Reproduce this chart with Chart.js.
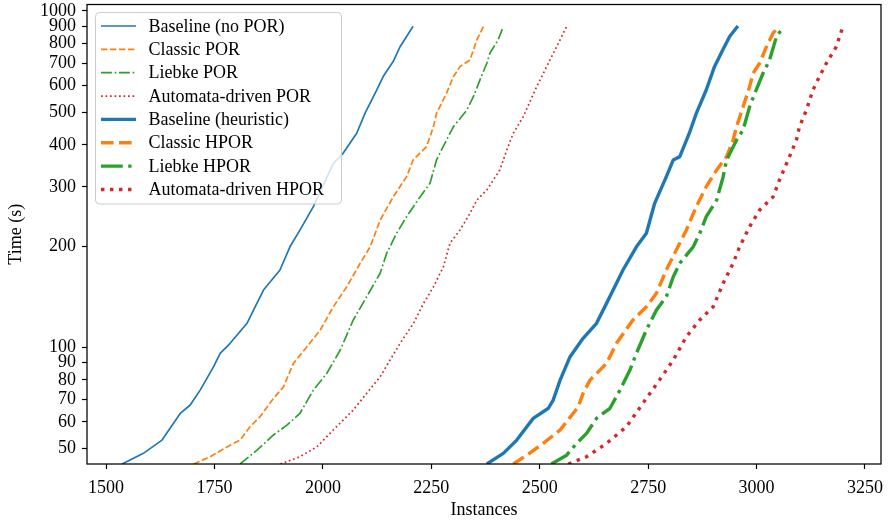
<!DOCTYPE html>
<html><head><meta charset="utf-8">
<script src="https://cdn.jsdelivr.net/npm/chart.js@4.4.1/dist/chart.umd.min.js"></script>
<style>html,body{margin:0;padding:0;background:#fff;} canvas{display:block;}</style>
</head><body>
<canvas id="c" width="892" height="524"></canvas>
<script>
const seriesLabels = ['Baseline (no POR)','Classic POR','Liebke POR','Automata-driven POR',
  'Baseline (heuristic)','Classic HPOR','Liebke HPOR','Automata-driven HPOR'];
const xTicks = [1500,1750,2000,2250,2500,2750,3000,3250];
const yTicks = [50,60,70,80,90,100,200,300,400,500,600,700,800,900,1000];

const baseNoPorX = [1537,1586,1629,1671,1694,1717,1748,1763,1786,1825,1840,1863,1901,1924,1947,1978,2024,2047,2078,2097,2124,2139,2162,2178,2193,2208];
const baseNoPorY = [45,48.4,53.0,63.6,67.4,74.6,87.6,96,102.8,117.9,129,148,169.8,199,223,262,352,378,433,496,582,638,707,783,839,900];
const classicPorX = [1702,1740,1786,1809,1832,1855,1886,1909,1932,1963,1994,2024,2055,2086,2109,2132,2162,2193,2208,2239,2255,2262,2285,2301,2316,2339,2355,2370];
const classicPorY = [45,47.3,51.2,53.0,58.1,62.2,70.5,76.3,89.6,100.4,112.6,132,151.4,177.8,199,239,280,321.6,360.6,395,453,496,569,638,683,715,820,898];
const liebkePorX = [1809,1848,1886,1917,1947,1978,2009,2040,2070,2101,2132,2147,2170,2193,2224,2247,2262,2285,2301,2332,2347,2362,2378,2385,2404,2416];
const liebkePorY = [45,49.5,54.9,58.7,63.6,74.6,83.7,98.2,120.6,141.4,166,190.3,218.3,244.6,280,307.4,360.6,413.5,453,507.6,556,623,699,748.5,820,898];
const automataPorX = [1902,1947,1986,2024,2070,2101,2132,2155,2178,2209,2232,2255,2278,2293,2316,2339,2355,2378,2408,2424,2439,2462,2493,2516,2539,2562];
const automataPorY = [45,47.3,50.6,56.8,65.1,73,81.8,91.7,102.8,117.9,135.1,151.4,173.7,203.9,223,250,274,293.6,336.7,386,433,485,595.5,683,783,898];
const baseHeurX = [2378,2416,2447,2485,2520,2531,2547,2570,2600,2631,2654,2677,2692,2723,2746,2765,2792,2808,2823,2845,2861,2884,2903,2922,2938,2957];
const baseHeurY = [45,48.4,53.0,61.5,65.9,69.7,79.9,93.8,106.4,117.9,135.1,155,169.8,199,218.3,268,321.6,360.6,368.9,433,496,582,683,765.6,839,902];
const classicHporX = [2439,2470,2508,2547,2577,2589,2600,2616,2654,2677,2715,2746,2769,2792,2815,2838,2861,2884,2908,2931,2946,2954,2969,2984,2992,3007,3023,3038,3050];
const classicHporY = [45,47.8,51.8,56.8,63.6,66.6,73,79.9,89.6,102.8,120.6,132,144.7,169.8,194.7,223,262,300.3,336.7,368.9,413.5,453,519,595.5,652.8,699,783,858.5,894];
const liebkeHporX = [2527,2562,2585,2608,2631,2662,2685,2708,2723,2746,2769,2792,2808,2823,2854,2869,2884,2908,2923,2931,2954,2969,2984,2999,3015,3030,3046,3057];
const liebkeHporY = [45,47.8,51.8,55.5,61.5,65.9,74.6,85.6,96,112.6,129,141.4,162.1,177.8,199,218.3,244.6,274,321.6,360.6,413.5,443,519,582,652.8,715,839,878];
const automataHporX = [2566,2608,2654,2700,2738,2776,2808,2838,2869,2900,2923,2946,2961,2984,3007,3038,3053,3076,3092,3099,3115,3130,3145,3161,3184,3199];
const automataHporY = [45,47.3,51.8,58.1,68.2,79.9,91.7,107.5,120.6,132,155,177.8,199,228.4,256,280,314.5,368.9,413.5,453,507.6,582,638,699,783,898];

const seriesX = [baseNoPorX, classicPorX, liebkePorX, automataPorX, baseHeurX, classicHporX, liebkeHporX, automataHporX];
const seriesY = [baseNoPorY, classicPorY, liebkePorY, automataPorY, baseHeurY, classicHporY, liebkeHporY, automataHporY];

const FONT = "'Liberation Serif', 'Times New Roman', serif";
const FS = 18;
const colors = ['#1f77b4','#ff7f0e','#2ca02c','#d62728'];
const styles = ['solid','dashed','dashdot','dotted'];
function dashFor(style, w) {
  if (style === 'dashed') return [3.7*w, 1.6*w];
  if (style === 'dashdot') return [6.4*w, 1.6*w, 1*w, 1.6*w];
  if (style === 'dotted') return [1*w, 1.65*w];
  return [];
}

const datasets = seriesLabels.map((lab, i) => {
  const w = i >= 4 ? 3.4 : 1.7;
  const st = styles[i % 4];
  return {
    label: lab,
    data: seriesX[i].map((x, k) => ({x: x, y: seriesY[i][k]})),
    borderColor: colors[i % 4],
    backgroundColor: colors[i % 4],
    borderWidth: w,
    borderDash: dashFor(st, w),
    borderCapStyle: 'butt',
    borderJoinStyle: 'round',
    pointRadius: 0,
    tension: 0,
    fill: false,
    order: 7 - i
  };
});

const bgPlugin = {
  id: 'bg',
  beforeDraw(chart) {
    const c = chart.ctx;
    c.save(); c.fillStyle = '#fff'; c.fillRect(0, 0, chart.width, chart.height); c.restore();
  }
};
const framePlugin = {
  id: 'frame',
  afterDatasetsDraw(chart) {
    const a = chart.chartArea, c = chart.ctx;
    c.save();
    c.strokeStyle = '#000'; c.lineWidth = 1.25; c.setLineDash([]);
    c.strokeRect(a.left, a.top, a.right - a.left, a.bottom - a.top);
    c.restore();
  }
};
const legendPlugin = {
  id: 'mplLegend',
  afterDraw(chart) {
    const a = chart.chartArea, c = chart.ctx;
    const bx = a.left + 8.5, by = a.top + 8, bw = 246, bh = 191.5, r = 4;
    c.save();
    c.beginPath();
    c.moveTo(bx + r, by);
    c.lineTo(bx + bw - r, by); c.arcTo(bx + bw, by, bx + bw, by + r, r);
    c.lineTo(bx + bw, by + bh - r); c.arcTo(bx + bw, by + bh, bx + bw - r, by + bh, r);
    c.lineTo(bx + r, by + bh); c.arcTo(bx, by + bh, bx, by + bh - r, r);
    c.lineTo(bx, by + r); c.arcTo(bx, by, bx + r, by, r);
    c.closePath();
    c.fillStyle = 'rgba(255,255,255,0.8)'; c.fill();
    c.strokeStyle = '#cccccc'; c.lineWidth = 1; c.stroke();
    chart.data.datasets.forEach((ds, i) => {
      const yy = by + 13.5 + i * 23.35;
      c.beginPath();
      c.setLineDash(ds.borderDash);
      c.lineDashOffset = 0;
      c.lineCap = 'butt';
      c.strokeStyle = ds.borderColor; c.lineWidth = ds.borderWidth;
      c.moveTo(bx + 5.5, yy); c.lineTo(bx + 40.5, yy); c.stroke();
      c.setLineDash([]);
      c.fillStyle = '#000';
      c.font = FS + 'px ' + FONT;
      c.textBaseline = 'middle'; c.textAlign = 'left';
      c.fillText(ds.label, bx + 53, yy + 1);
    });
    c.restore();
  }
};

new Chart(document.getElementById('c'), {
  type: 'line',
  data: { datasets: datasets },
  plugins: [bgPlugin, framePlugin, legendPlugin],
  options: {
    responsive: false,
    devicePixelRatio: 1,
    animation: false,
    events: [],
    layout: { padding: { top: 4.5, right: 11, left: 0, bottom: 0 } },
    plugins: { legend: { display: false }, tooltip: { enabled: false } },
    scales: {
      x: {
        type: 'linear', min: 1456, max: 3287,
        afterBuildTicks(s) { s.ticks = xTicks.map(v => ({value: v})); },
        afterFit(s) { s.height = 60; s.paddingLeft = 0; s.paddingRight = 0; },
        ticks: { autoSkip: false, maxRotation: 0, padding: 8, color: '#000',
                 font: { family: FONT, size: FS }, callback: v => String(v) },
        grid: { display: true, drawOnChartArea: false, drawTicks: true, tickLength: 5, tickWidth: 1.2, tickColor: '#000' },
        border: { display: false },
        title: { display: true, text: 'Instances', color: '#000', font: { family: FONT, size: FS }, padding: { top: 0, bottom: 3 } }
      },
      y: {
        type: 'logarithmic', min: 45, max: 1045,
        afterBuildTicks(s) { s.ticks = yTicks.map(v => ({value: v})); },
        afterFit(s) { s.width = 87; s.paddingTop = 0; s.paddingBottom = 0; },
        ticks: { autoSkip: false, padding: 6, color: '#000',
                 font: { family: FONT, size: FS }, callback: v => String(v) },
        grid: { display: true, drawOnChartArea: false, drawTicks: true, tickLength: 5, tickWidth: 1.2, tickColor: '#000' },
        border: { display: false },
        title: { display: true, text: 'Time (s)', color: '#000', font: { family: FONT, size: FS }, padding: { top: 5, bottom: 0 } }
      }
    }
  }
});
</script>
</body></html>
